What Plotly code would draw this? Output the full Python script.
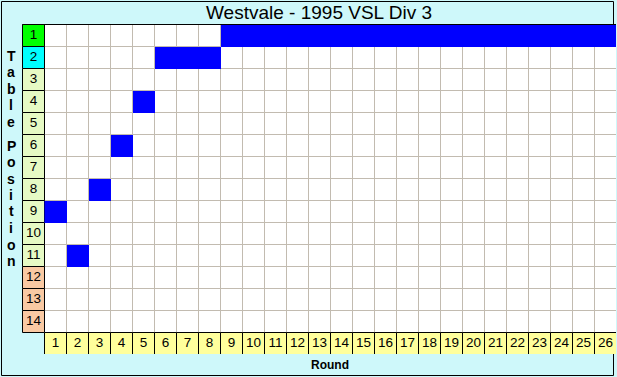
import plotly.graph_objects as go

# ---- data ----
title_text = "Westvale - 1995 VSL Div 3"
rounds = [1, 2, 3, 4, 5, 6, 7, 8, 9, 10, 11, 12, 13, 14, 15, 16, 17, 18, 19, 20, 21, 22, 23, 24, 25, 26]
positions = [9, 11, 8, 6, 4, 2, 2, 2, 1, 1, 1, 1, 1, 1, 1, 1, 1, 1, 1, 1, 1, 1, 1, 1, 1, 1]
table_rows = [1, 2, 3, 4, 5, 6, 7, 8, 9, 10, 11, 12, 13, 14]
row_labels = ["1", "2", "3", "4", "5", "6", "7", "8", "9", "10", "11", "12", "13", "14"]
round_labels = ["1", "2", "3", "4", "5", "6", "7", "8", "9", "10", "11", "12", "13",
                "14", "15", "16", "17", "18", "19", "20", "21", "22", "23", "24", "25", "26"]
row_colors = ["#00FF00", "#00FFFF", "#E6FAC4", "#E6FAC4", "#E6FAC4", "#E6FAC4", "#E6FAC4",
              "#E6FAC4", "#E6FAC4", "#E6FAC4", "#E6FAC4", "#F9C9A3", "#F9C9A3", "#F9C9A3"]
y_title_top = ["T", "a", "b", "l", "e"]
y_title_bottom = ["P", "o", "s", "i", "t", "i", "o", "n"]
x_title = "Round"

# ---- style ----
W, H = 617, 377
ML, MR, MT, MB = 22, 1, 24, 23
PW, PH = W - ML - MR, H - MT - MB
BG = "#CEF8FA"
GRID = "#C2BBB0"
BLUE = "#0000FF"
YELLOW = "#FFFF9C"
FONT = "Liberation Sans"

def px_x(px):
    return (px - ML) / PW

def px_y(py):
    return (H - MB - py) / PH

n_r = len(table_rows)
n_c = len(rounds)
half = 1.0 / 44.0

fig = go.Figure()

# blue position cells
z = [[1 if positions[c] == r else None for c in range(n_c)] for r in table_rows]
fig.add_trace(go.Heatmap(
    x=rounds, y=table_rows, z=z,
    colorscale=[[0, BLUE], [1, BLUE]], showscale=False,
    hoverinfo="skip", zsmooth=False,
))

# row labels and round labels
fig.add_trace(go.Scatter(
    x=[0] * n_r, y=table_rows, text=row_labels, mode="text",
    textfont=dict(family=FONT, size=13.5, color="black"),
    textposition="middle center", hoverinfo="skip", showlegend=False,
))
fig.add_trace(go.Scatter(
    x=rounds, y=[n_r + 1] * n_c, text=round_labels, mode="text",
    textfont=dict(family=FONT, size=13.5, color="black"),
    textposition="middle center", hoverinfo="skip", showlegend=False,
))

shapes = []
# outer frame
shapes.append(dict(type="rect", xref="paper", yref="paper",
                   x0=px_x(1.5), x1=px_x(613.5), y0=px_y(1.5), y1=px_y(375.5),
                   line=dict(color="black", width=1), fillcolor=BG, layer="below"))
# white grid area
shapes.append(dict(type="rect", x0=0.5, x1=n_c + 0.5, y0=0.5, y1=n_r + 0.5,
                   line=dict(width=0), fillcolor="white", layer="below"))
for c in range(1, n_c):
    shapes.append(dict(type="line", x0=c + 0.5, x1=c + 0.5, y0=0.5, y1=n_r + 0.5,
                       line=dict(color=GRID, width=1), layer="below"))
for r in range(1, n_r):
    shapes.append(dict(type="line", x0=0.5, x1=n_c + 0.5, y0=r + 0.5, y1=r + 0.5,
                       line=dict(color=GRID, width=1), layer="below"))
# row label cells
for i, r in enumerate(table_rows):
    shapes.append(dict(type="rect", x0=-0.5, x1=0.5, y0=r - 0.5, y1=r + 0.5,
                       line=dict(color="black", width=1), fillcolor=row_colors[i], layer="below"))
# round label cells
for c in rounds:
    shapes.append(dict(type="rect", x0=c - 0.5, x1=c + 0.5, y0=n_r + 0.5, y1=n_r + 1.5,
                       line=dict(color="black", width=1), fillcolor=YELLOW, layer="below"))
# top border of grid
shapes.append(dict(type="line", x0=-0.5, x1=n_c + 0.5, y0=0.5, y1=0.5,
                   line=dict(color="black", width=1), layer="above"))

annotations = []
for i, ch in enumerate(y_title_top):
    annotations.append(dict(text="<b>%s</b>" % ch, xref="paper", yref="paper",
                            x=px_x(11), y=px_y(55.5 + 16.6 * i), showarrow=False,
                            xanchor="center", yanchor="middle",
                            font=dict(family=FONT, size=14, color="black")))
for j, ch in enumerate(y_title_bottom):
    annotations.append(dict(text="<b>%s</b>" % ch, xref="paper", yref="paper",
                            x=px_x(11), y=px_y(145.5 + 16.5 * j), showarrow=False,
                            xanchor="center", yanchor="middle",
                            font=dict(family=FONT, size=14, color="black")))
annotations.append(dict(text="<b>%s</b>" % x_title, xref="paper", yref="paper",
                        x=px_x(330), y=px_y(364.5), showarrow=False,
                        xanchor="center", yanchor="middle",
                        font=dict(family=FONT, size=12, color="black")))

fig.update_layout(
    width=W, height=H,
    margin=dict(l=ML, r=MR, t=MT, b=MB, pad=0),
    paper_bgcolor=BG, plot_bgcolor="rgba(0,0,0,0)",
    title=dict(text=title_text, x=px_x(319), xref="paper", xanchor="center",
               y=1 - 12.5 / H, yref="container", yanchor="middle",
               font=dict(family=FONT, size=19, color="black")),
    xaxis=dict(range=[-0.5 - half, n_c + 0.5 - half], showgrid=False, zeroline=False,
               showticklabels=False, ticks="", fixedrange=True),
    yaxis=dict(range=[n_r + 1.5 - half, 0.5 - half], showgrid=False, zeroline=False,
               showticklabels=False, ticks="", fixedrange=True),
    shapes=shapes, annotations=annotations, showlegend=False,
)

fig.write_html("out.html", config={"displayModeBar": False},
               post_script="document.body.style.margin='0';document.body.style.overflow='hidden';")
